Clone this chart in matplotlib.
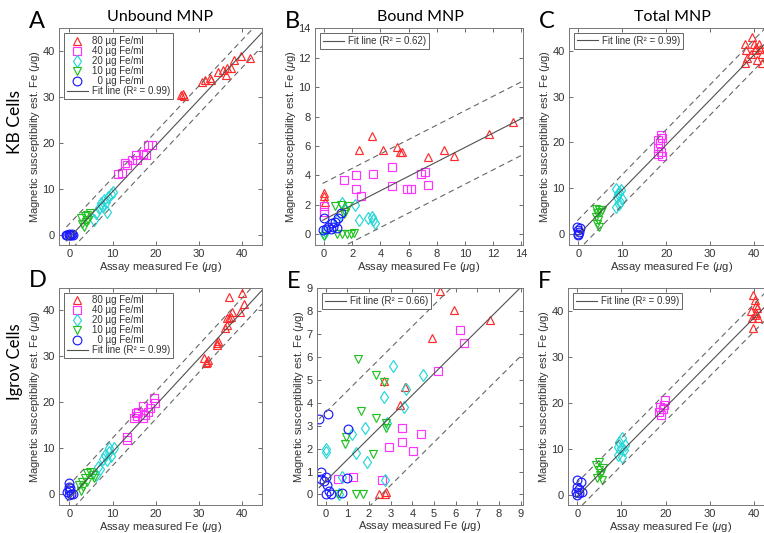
import numpy as np
import matplotlib
matplotlib.use("Agg")
import matplotlib.pyplot as plt

plt.rcParams['font.family'] = ['Liberation Sans', 'DejaVu Sans']
plt.rcParams['mathtext.fontset'] = 'custom'
plt.rcParams['mathtext.rm'] = 'Liberation Sans'
plt.rcParams['mathtext.it'] = 'Liberation Sans:italic'

# ---- data (x = assay Fe, y = susceptibility est. Fe) ----
conc_labels = ['80 µg Fe/ml', '40 µg Fe/ml', '20 µg Fe/ml', '10 µg Fe/ml', '  0 µg Fe/ml']

# A: unbound, KB
a_80 = [(25.8, 30.4), (26.6, 30.1), (26.3, 30.6), (30.7, 33.3), (31.3, 33.7), (32.5, 34.1),
        (32.8, 33.7), (34.5, 35.3), (35.5, 35.9), (36.4, 36.2), (36.2, 34.8), (37.4, 36.2),
        (38.1, 38.0), (39.6, 38.8), (41.8, 38.4)]
a_40 = [(11.2, 13.3), (12.1, 13.4), (12.9, 15.6), (13.3, 15.1), (14.4, 16.2), (15.5, 17.4),
        (15.7, 16.2), (17.0, 17.5), (17.8, 17.4), (18.2, 19.6), (19.1, 19.6)]
a_20 = [(5.7, 3.3), (6.2, 4.7), (6.8, 5.8), (7.4, 6.9), (7.9, 7.6), (8.4, 7.2), (8.9, 8.2),
        (9.6, 8.9), (10.0, 9.4), (8.7, 5.0), (7.6, 6.2)]
a_10 = [(2.8, 3.6), (3.6, 4.1), (3.0, 2.4), (3.3, 1.8), (4.1, 4.3), (4.7, 4.7), (3.8, 2.9),
        (4.3, 3.3)]
a_0 = [(-0.5, 0.0), (-0.2, 0.0), (0.0, 0.1), (0.3, 0.0), (0.6, 0.1), (0.8, 0.0), (0.2, -0.1),
       (-0.7, 0.0)]

# B: bound, KB
b_80 = [(0.0, 2.8), (0.0, 2.6), (0.05, 2.2), (2.5, 5.7), (3.4, 6.7), (4.2, 5.75), (5.2, 5.9),
        (5.4, 5.6), (5.5, 5.6), (7.4, 5.25), (8.5, 5.75), (9.2, 5.35), (11.7, 6.8), (13.4, 7.6)]
b_40 = [(0.0, 1.5), (0.0, 1.95), (1.4, 3.7), (2.3, 4.0), (2.3, 3.1), (2.6, 2.6), (3.5, 4.1),
        (4.8, 4.6), (4.8, 3.3), (5.9, 3.1), (6.2, 3.1), (6.9, 4.1), (7.2, 4.2), (7.4, 3.35)]
b_20 = [(1.3, 2.1), (2.2, 2.0), (1.5, 1.7), (2.5, 1.0), (3.1, 1.1), (3.4, 1.2), (3.5, 1.0),
        (3.6, 0.75), (0.1, 0.2), (0.0, 0.0), (0.9, 1.0)]
b_10 = [(0.75, 1.9), (1.2, 2.0), (1.7, 1.95), (1.5, 1.5), (1.4, 1.4), (0.9, 0.05), (1.3, 0.0),
        (1.65, 0.0), (1.9, 0.0), (2.1, 0.1), (0.0, -0.1)]
b_0 = [(-0.1, 0.3), (0.0, 1.1), (0.3, 0.5), (0.6, 0.75), (0.75, 0.85), (0.65, 0.5), (1.0, 1.1),
       (1.2, 1.45), (0.15, 0.35), (0.5, 0.35), (0.9, 0.4)]

# C: total, KB
c_80 = [(38.0, 41.5), (38.2, 40.1), (37.9, 37.2), (39.2, 39.3), (39.5, 43.0), (39.9, 41.5),
        (40.2, 40.1), (40.7, 38.0), (41.2, 41.5), (41.4, 40.4), (41.7, 39.3), (41.8, 37.2),
        (40.5, 40.8), (38.4, 38.3)]
c_40 = [(18.2, 20.5), (18.7, 21.6), (19.1, 20.9), (18.2, 18.7), (18.9, 18.0), (18.2, 17.5),
        (19.1, 17.0), (18.5, 19.9)]
c_20 = [(8.6, 9.8), (9.2, 9.3), (9.8, 9.6), (8.9, 8.2), (9.6, 7.1), (8.6, 6.0), (10.0, 7.8),
        (9.1, 8.9), (9.2, 6.6)]
c_10 = [(4.3, 4.6), (4.7, 5.3), (5.1, 4.9), (4.1, 3.8), (4.5, 3.1), (4.3, 2.2), (4.7, 1.7),
        (5.3, 5.4), (4.1, 5.6)]
c_0 = [(0.0, 0.9), (0.0, 0.2), (0.3, 1.3), (0.0, -0.1), (0.15, 0.6), (-0.2, 1.7)]

# D: unbound, Igrov
d_80 = [(31.2, 29.6), (31.8, 28.8), (31.6, 28.5), (32.0, 29.2), (34.1, 32.8), (34.5, 33.3),
        (34.2, 32.5), (35.9, 36.1), (36.5, 36.8), (36.9, 38.3), (37.3, 38.6), (37.7, 39.7),
        (37.0, 42.8), (39.4, 39.7), (39.9, 43.7), (40.3, 41.3), (36.4, 38.4)]
d_40 = [(13.3, 12.5), (13.3, 11.8), (14.9, 16.7), (15.5, 17.6), (15.7, 17.1), (17.0, 19.1),
        (17.0, 16.5), (17.6, 17.2), (18.1, 18.0), (18.7, 18.7), (19.6, 20.9), (19.8, 19.8),
        (15.9, 18.0)]
d_20 = [(6.1, 4.2), (6.6, 6.0), (7.0, 5.5), (7.7, 7.8), (8.3, 8.6), (8.6, 7.5), (9.1, 9.3),
        (9.2, 10.0), (10.4, 10.0), (9.6, 8.4)]
d_10 = [(2.3, 2.0), (3.0, 2.8), (3.6, 3.5), (4.1, 4.6), (4.7, 4.9), (5.5, 4.3), (5.8, 3.5),
        (4.1, 2.8), (3.2, 1.7), (2.8, 0.7)]
d_0 = [(-0.2, 2.4), (0.0, 1.7), (-0.2, 0.9), (0.3, 0.0), (0.9, 0.0), (-0.2, -0.1), (0.15, 1.3),
       (-0.45, 0.6)]

# E: bound, Igrov
e_80 = [(5.27, 8.9), (5.9, 8.05), (7.6, 7.6), (4.9, 6.85), (2.7, 4.95), (3.65, 4.7), (3.45, 3.9),
        (2.45, 0.03), (2.75, 0.03), (2.8, 0.1)]
e_40 = [(6.2, 7.2), (6.4, 6.6), (5.2, 5.4), (3.5, 2.9), (3.5, 2.3), (4.4, 2.65), (4.05, 1.9),
        (2.9, 2.05), (1.25, 0.75), (0.57, 0.68), (2.6, 0.65)]
e_20 = [(3.1, 5.6), (4.5, 5.2), (2.7, 4.25), (3.6, 3.8), (3.7, 4.6), (2.85, 3.1), (1.8, 2.9),
        (1.2, 2.65), (1.4, 1.8), (1.9, 1.4), (0.0, 2.0), (0.0, 1.85), (0.75, 0.75), (2.75, 0.65),
        (0.6, 0.0)]
e_10 = [(1.5, 5.9), (2.3, 5.2), (2.7, 4.9), (1.65, 3.65), (2.3, 3.35), (2.8, 3.1), (2.8, 2.9),
        (0.95, 2.5), (0.9, 2.2), (2.2, 1.75), (1.4, 0.0), (1.7, 0.0), (0.55, 0.0)]
e_0 = [(-0.3, 3.3), (0.1, 3.5), (1.05, 2.85), (-0.2, 1.0), (-0.23, 0.68), (0.0, 0.75),
       (0.05, 0.4), (0.0, 0.03), (0.25, 0.03), (0.75, 0.07), (1.0, 0.72), (-0.07, 0.58),
       (0.15, 0.17)]

# F: total, Igrov
f_80 = [(39.8, 43.5), (40.2, 42.4), (40.4, 41.3), (40.5, 39.5), (39.4, 39.9), (39.6, 38.4),
        (40.9, 38.4), (39.8, 36.2), (40.7, 40.6), (40.2, 39.1)]
f_40 = [(18.4, 18.1), (18.7, 19.2), (19.7, 19.6), (19.9, 20.7), (18.9, 17.4), (19.5, 18.7)]
f_20 = [(9.5, 11.6), (10.1, 12.3), (9.8, 10.1), (10.6, 9.8), (9.3, 8.7), (10.2, 8.3),
        (9.1, 10.5), (10.8, 10.9)]
f_10 = [(4.3, 6.5), (4.9, 5.4), (5.3, 4.7), (4.5, 3.6), (5.5, 3.3), (5.8, 5.8), (4.8, 7.2),
        (5.1, 4.3)]
f_0 = [(0.0, 3.3), (0.8, 2.9), (0.0, 1.8), (0.5, 1.3), (-0.4, 0.7), (0.4, 0.5), (1.1, 0.7),
       (0.0, 0.0)]

# fit lines: slope, intercept, half-width of dashed band, R^2
fit_slope = [1.0, 0.49, 0.98, 1.015, 0.94, 0.97]
fit_icept = [-0.6, 1.0, -0.1, -0.9, 0.58, -0.3]
fit_band = [3.0, 2.5, 3.3, 3.0, 3.0, 3.0]
fit_r2 = ['0.99', '0.62', '0.99', '0.99', '0.66', '0.99']

panel_letters = ['A', 'B', 'C', 'D', 'E', 'F']
col_titles = ['Unbound MNP', 'Bound MNP', 'Total MNP']
row_titles = ['KB Cells', 'Igrov Cells']

series = [[a_80, a_40, a_20, a_10, a_0], [b_80, b_40, b_20, b_10, b_0],
          [c_80, c_40, c_20, c_10, c_0], [d_80, d_40, d_20, d_10, d_0],
          [e_80, e_40, e_20, e_10, e_0], [f_80, f_40, f_20, f_10, f_0]]

markers = ['^', 's', 'd', 'v', 'o']
colors = ['#ff2a2a', '#ff33ff', '#22d8d8', '#22c022', '#1a1aff']

# axes boxes in pixels (left, right, top, bottom)
W, H = 764, 533
boxes = [(59, 261.7, 28.3, 245), (315, 522.7, 28.3, 245), (569, 774, 28, 245),
         (59, 261.7, 287.7, 505), (317, 522.7, 288.3, 504.5), (568, 774, 288.3, 505)]
xlims = [(-2.4, 44.5), (-0.64, 14.1), (-2.1, 44.5), (-2.4, 44.5), (-0.4, 9.09), (-2.1, 44.5)]
ylims = [(-2.2, 44.9), (-0.73, 14), (-2.3, 44.9), (-2.3, 44.9), (-0.44, 9), (-2.2, 44.9)]
ticks = [np.arange(0, 41, 10), np.arange(0, 15, 2), np.arange(0, 41, 10),
         np.arange(0, 41, 10), np.arange(0, 10, 1), np.arange(0, 41, 10)]

fig = plt.figure(figsize=(W / 100, H / 100), dpi=100)
tc = '#333333'

for i in range(6):
    l, r, t, b = boxes[i]
    ax = fig.add_axes([l / W, 1 - b / H, (r - l) / W, (b - t) / H])
    handles = []
    for k in range(5):
        pts = np.array(series[i][k])
        h, = ax.plot(pts[:, 0], pts[:, 1], linestyle='none', marker=markers[k],
                     ms=6.3, mfc='none', mec=colors[k], mew=0.85, label=conc_labels[k])
        handles.append(h)
    allx = np.concatenate([np.array(s)[:, 0] for s in series[i]])
    xx = np.array([allx.min(), xlims[i][1] + 1])
    yy = fit_slope[i] * xx + fit_icept[i]
    fl, = ax.plot(xx, yy, color='#505050', lw=0.8,
                  label='Fit line (R² = %s)' % fit_r2[i])
    ax.plot(xx, yy + fit_band[i], color='#666666', lw=0.8, dashes=(5, 3.5))
    ax.plot(xx, yy - fit_band[i], color='#666666', lw=0.8, dashes=(5, 3.5))
    ax.set_xlim(xlims[i])
    ax.set_ylim(ylims[i])
    ax.set_xticks(ticks[i])
    ax.set_yticks(ticks[i])
    ax.tick_params(direction='in', length=3, width=0.6, top=True, right=True,
                   labelsize=8, colors='#555555', labelcolor=tc, pad=3)
    for sp in ax.spines.values():
        sp.set_color('#777777')
        sp.set_linewidth(0.7)
    ax.set_xlabel('Assay measured Fe ($\\mu$g)', fontsize=8, color=tc, labelpad=0.5)
    ax.set_ylabel('Magnetic susceptibility est. Fe ($\\mu$g)', fontsize=8, color=tc,
                  labelpad=0.5)
    if i in (0, 3):
        leg = ax.legend(handles=handles + [fl], loc='upper left', fontsize=7,
                        handlelength=2.2, handletextpad=0.4, labelspacing=0.0,
                        borderpad=0.3, borderaxespad=0.5, fancybox=False,
                        edgecolor='#666666', framealpha=1)
    else:
        leg = ax.legend(handles=[fl], loc='upper left', fontsize=7,
                        handlelength=2.2, handletextpad=0.4, borderpad=0.3,
                        borderaxespad=0.5, fancybox=False, edgecolor='#666666',
                        framealpha=1)
    leg.get_frame().set_linewidth(0.7)
    for txt in leg.get_texts():
        txt.set_color(tc)
    # panel letter
    fig.text((l - 30) / W, 1 - (t - 7) / H, panel_letters[i], fontsize=17,
             family='Lato', ha='left', va='center', color='black')

for j in range(3):
    cx = [160, 420, 672][j]
    fig.text(cx / W, 1 - 17 / H, col_titles[j], fontsize=11.5, family='Lato',
             ha='center', va='center', color='black')

fig.text(15 / W, 1 - 122 / H, row_titles[0], fontsize=12.5, family='Lato',
         rotation=90, ha='center', va='center', color='black')
fig.text(15 / W, 1 - 362 / H, row_titles[1], fontsize=12, family='Lato',
         rotation=90, ha='center', va='center', color='black')

fig.savefig('out.png', dpi=100)
